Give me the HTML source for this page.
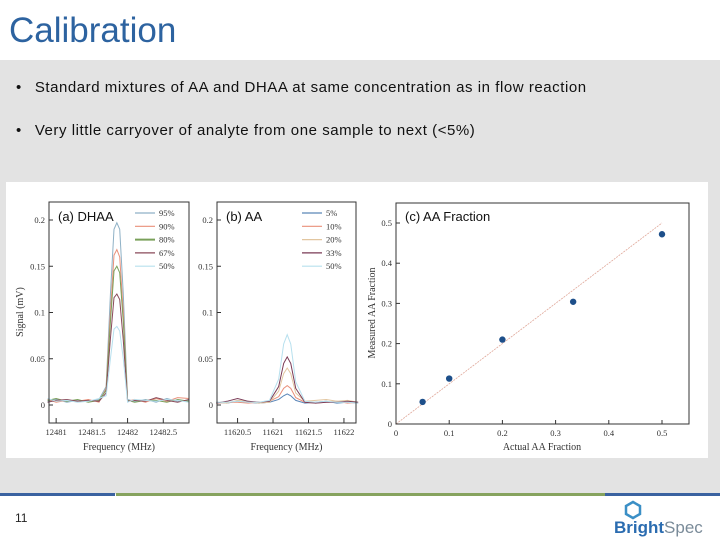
<!DOCTYPE html>
<html><head><meta charset="utf-8">
<style>
body{margin:0;width:720px;height:540px;position:relative;overflow:hidden;background:#fff;font-family:"Liberation Sans",sans-serif}
#band{position:absolute;left:0;top:60px;width:720px;height:434px;background:#e3e3e3}
#title{position:absolute;left:9px;top:11px;font-size:35px;color:#2d63a0}
.bullet{position:absolute;left:16px;font-size:15px;letter-spacing:0.55px;color:#111}
.bullet span{margin-right:13px}
#chart{position:absolute;left:0;top:0}
</style></head><body>
<div id="band"></div>
<div id="title">Calibration</div>
<div class="bullet" style="top:79px"><span>•</span>Standard mixtures of AA and DHAA at same concentration as in flow reaction</div>
<div class="bullet" style="top:122px"><span>•</span>Very little carryover of analyte from one sample to next (&lt;5%)</div>
<svg id="chart" width="720" height="540" xmlns="http://www.w3.org/2000/svg" font-family="Liberation Serif, serif">
<rect x="6" y="182" width="702" height="276" fill="#fff"/>
<rect x="0" y="493" width="115" height="3" fill="#3a62a0"/>
<rect x="116" y="493" width="489" height="3" fill="#86a35e"/>
<rect x="605" y="493" width="115" height="3" fill="#3a62a0"/>
<text x="15" y="522" font-family="Liberation Sans, sans-serif" font-size="12" fill="#222">11</text>
<g>
<polygon points="633,502 640,506 640,514 633,518 626,514 626,506" fill="none" stroke="#3b8fc6" stroke-width="2.5"/>
<text x="614" y="533" font-family="Liberation Sans, sans-serif" font-size="17" font-weight="bold" fill="#2b6cb0">Bright<tspan font-weight="normal" fill="#7a8b99">Spec</tspan></text>
</g>
<g id="pa"></g><g id="pb"></g><g id="pc"></g>
</svg>
<script>
const dhaaFreq=[12480.88,12481.0,12481.15,12481.3,12481.45,12481.6,12481.7,12481.76,12481.81,12481.85,12481.89,12481.94,12482.0,12482.1,12482.25,12482.4,12482.55,12482.7,12482.86];
const dhaaLabels=["95%","90%","80%","67%","50%"];
const dhaaColors=["#8fb1c6","#e9907a","#7aa05a","#8a4a5a","#b7e0ee"];
const dhaa95=[0.004,0.006,0.003,0.005,0.004,0.006,0.02,0.12,0.19,0.197,0.19,0.12,0.006,0.004,0.006,0.003,0.007,0.004,0.005];
const dhaa90=[0.006,0.003,0.005,0.004,0.006,0.003,0.018,0.1,0.162,0.168,0.16,0.1,0.004,0.006,0.003,0.007,0.004,0.008,0.007];
const dhaa80=[0.005,0.007,0.004,0.006,0.003,0.005,0.016,0.09,0.145,0.15,0.143,0.09,0.005,0.003,0.005,0.005,0.003,0.006,0.004];
const dhaa67=[0.003,0.005,0.006,0.004,0.005,0.004,0.013,0.072,0.116,0.12,0.114,0.07,0.004,0.005,0.004,0.008,0.005,0.003,0.006];
const dhaa50=[0.007,0.004,0.005,0.003,0.004,0.007,0.01,0.05,0.082,0.085,0.08,0.05,0.003,0.006,0.005,0.004,0.006,0.005,0.003];
const dhaaTicks=[12481,12481.5,12482,12482.5];
const aaFreq=[11620.2,11620.35,11620.5,11620.65,11620.8,11620.95,11621.08,11621.15,11621.2,11621.25,11621.32,11621.45,11621.6,11621.75,11621.9,11622.05,11622.2];
const aaLabels=["5%","10%","20%","33%","50%"];
const aaColors=["#5a86b8","#e9907a","#e2c6a0","#7a3a55","#b7e0ee"];
const aa5=[0.003,0.002,0.004,0.003,0.002,0.003,0.006,0.01,0.012,0.01,0.005,0.002,0.003,0.004,0.002,0.003,0.002];
const aa10=[0.002,0.003,0.003,0.002,0.003,0.004,0.009,0.018,0.021,0.018,0.008,0.003,0.002,0.003,0.004,0.002,0.003];
const aa20=[0.003,0.002,0.005,0.004,0.002,0.003,0.015,0.034,0.04,0.034,0.013,0.004,0.005,0.006,0.004,0.005,0.003];
const aa33=[0.002,0.004,0.007,0.004,0.003,0.004,0.02,0.045,0.052,0.045,0.018,0.003,0.002,0.003,0.003,0.004,0.003];
const aa50=[0.003,0.003,0.004,0.003,0.003,0.005,0.028,0.066,0.076,0.066,0.025,0.004,0.003,0.004,0.003,0.003,0.002];
const aaTicks=[11620.5,11621,11621.5,11622];
const sigTicks=[0,0.05,0.1,0.15,0.2];
const fracActual=[0.05,0.1,0.2,0.333,0.5];
const fracMeasured=[0.055,0.113,0.21,0.304,0.472];
const fracTicks=[0,0.1,0.2,0.3,0.4,0.5];

const NS="http://www.w3.org/2000/svg";
function mk(p,t,a){const e=document.createElementNS(NS,t);for(const k in a)e.setAttribute(k,a[k]);p.appendChild(e);return e;}
const yS=v=>405-v*925;
function spectrum(g,name,x0,x1,f0,f1,freq,series,labels,colors,ticks,ttl,tickFmt,showY){
  const xS=f=>x0+(f-f0)/(f1-f0)*(x1-x0);
  series.forEach((s,i)=>{
    const p=mk(g,'polyline',{points:s.map((v,j)=>xS(freq[j])+','+yS(v)).join(' '),fill:'none',stroke:colors[i],'stroke-width':1});
    
    
  });
  const box=mk(g,'rect',{x:x0,y:202,width:x1-x0,height:221,fill:'none',stroke:'#333','stroke-width':1});
  
  
  sigTicks.forEach(v=>{
    mk(g,'line',{x1:x0,x2:x0+4,y1:yS(v),y2:yS(v),stroke:'#333'});
    const t=mk(g,'text',{x:x0-4,y:yS(v)+3,'font-size':8.5,'text-anchor':'end',fill:'#333'});t.textContent=v===0?'0':String(v);
    
    
  });
  ticks.forEach(f=>{
    mk(g,'line',{x1:xS(f),x2:xS(f),y1:423,y2:418,stroke:'#333'});
    const t=mk(g,'text',{x:xS(f),y:435,'font-size':8.5,'text-anchor':'middle',fill:'#333'});t.textContent=tickFmt(f);
    
    
  });
  const xt=mk(g,'text',{x:(x0+x1)/2,y:450,'font-size':10,'text-anchor':'middle',fill:'#333'});xt.textContent='Frequency (MHz)';
  
  
  const tt=mk(g,'text',{x:x0+9,y:221,'font-size':13,'font-family':'Liberation Sans, sans-serif',fill:'#111'});tt.textContent=ttl;
  
  
  labels.forEach((l,i)=>{
    const y=216+i*13.3;
    const ln=mk(g,'line',{x1:x1-54,x2:x1-34,y1:y-3,y2:y-3,stroke:colors[i],'stroke-width':i===2&&name==='dhaa'?2:1.2});
    
    
    const t=mk(g,'text',{x:x1-30,y:y,'font-size':8.5,fill:'#333'});t.textContent=l;
    
    
  });
  if(showY){
    const yt=mk(g,'text',{x:0,y:0,'font-size':10,'text-anchor':'middle',fill:'#333',transform:'translate(23,312) rotate(-90)'});yt.textContent='Signal (mV)';
    
    
  }
}
spectrum(document.getElementById('pa'),'dhaa',49,189,12480.9,12482.86,dhaaFreq,[dhaa95,dhaa90,dhaa80,dhaa67,dhaa50],dhaaLabels,dhaaColors,dhaaTicks,'(a) DHAA',f=>String(f),true);
spectrum(document.getElementById('pb'),'aa',217,356,11620.21,11622.17,aaFreq,[aa5,aa10,aa20,aa33,aa50],aaLabels,aaColors,aaTicks,'(b) AA',f=>String(f),false);

(function(){
  const g=document.getElementById('pc');
  const xS=v=>396+v*532, yS2=v=>424-v*402;
  const fit=mk(g,'line',{x1:xS(0),y1:yS2(0),x2:xS(0.5),y2:yS2(0.5),stroke:'#e0a89a','stroke-width':0.8,'stroke-dasharray':'2,1'});
  
  
  fracActual.forEach((a,i)=>{
    const c=mk(g,'circle',{cx:xS(a),cy:yS2(fracMeasured[i]),r:3.2,fill:'#1d4f8a'});
    
    
  });
  const box=mk(g,'rect',{x:396,y:203,width:293,height:221,fill:'none',stroke:'#333'});
  
  
  fracTicks.forEach(v=>{
    mk(g,'line',{x1:396,x2:400,y1:yS2(v),y2:yS2(v),stroke:'#333'});
    mk(g,'line',{x1:xS(v),x2:xS(v),y1:424,y2:420,stroke:'#333'});
    const ty=mk(g,'text',{x:392,y:yS2(v)+3,'font-size':8.5,'text-anchor':'end',fill:'#333'});ty.textContent=String(v);
    
    
    const tx=mk(g,'text',{x:xS(v),y:436,'font-size':8.5,'text-anchor':'middle',fill:'#333'});tx.textContent=String(v);
    
    
  });
  const tt=mk(g,'text',{x:405,y:221,'font-size':13,'font-family':'Liberation Sans, sans-serif',fill:'#111'});tt.textContent='(c) AA Fraction';
  
  
  const xt=mk(g,'text',{x:542,y:450,'font-size':10,'text-anchor':'middle',fill:'#333'});xt.textContent='Actual AA Fraction';
  
  
  const yt=mk(g,'text',{x:0,y:0,'font-size':10,'text-anchor':'middle',fill:'#333',transform:'translate(375,313) rotate(-90)'});yt.textContent='Measured AA Fraction';
  
  
})();
</script>
</body></html>
